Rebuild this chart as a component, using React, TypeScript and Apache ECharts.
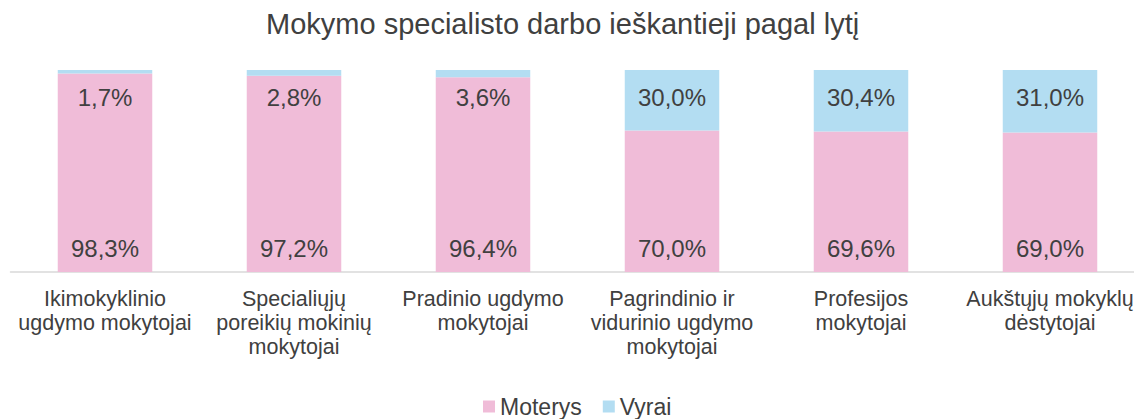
import React, { useEffect, useRef } from "react";
import * as echarts from "echarts";

const categories = [
  "Ikimokyklinio\nugdymo mokytojai",
  "Specialiųjų\nporeikių mokinių\nmokytojai",
  "Pradinio ugdymo\nmokytojai",
  "Pagrindinio ir\nvidurinio ugdymo\nmokytojai",
  "Profesijos\nmokytojai",
  "Aukštųjų mokyklų\ndėstytojai",
];
const moterys = [98.3, 97.2, 96.4, 70.0, 69.6, 69.0];
const vyrai = [1.7, 2.8, 3.6, 30.0, 30.4, 31.0];

const FONT = "'Liberation Sans', Arial, sans-serif";
const TXT = "#404040";
const PINK = "#F0BCD8";
const BLUE = "#B3DDF2";

const fmt = (p: any) => p.value.toFixed(1).replace(".", ",") + "%";

export default function App() {
  const ref = useRef<HTMLDivElement>(null);
  useEffect(() => {
    if (!ref.current) return;
    const chart = echarts.init(ref.current, undefined, { renderer: "svg" });
    chart.setOption({
      animation: false,
      backgroundColor: "#ffffff",
      title: {
        text: "Mokymo specialisto darbo ieškantieji pagal lytį",
        left: 266,
        top: 9,
        padding: 0,
        textStyle: { fontFamily: FONT, fontSize: 29, fontWeight: "normal", color: TXT },
      },
      legend: {
        top: 395,
        left: 483,
        padding: 0,
        itemWidth: 12,
        itemHeight: 12,
        itemGap: 21,
        icon: "rect",
        textStyle: { fontFamily: FONT, fontSize: 23, color: TXT },
        data: ["Moterys", "Vyrai"],
      },
      grid: { left: 10.5, right: 1.5, top: 70, bottom: 147, containLabel: false },
      xAxis: {
        type: "category",
        data: categories,
        axisLine: { lineStyle: { color: "#D9D9D9", width: 1.5 } },
        axisTick: { show: false },
        axisLabel: {
          interval: 0,
          margin: 15,
          fontFamily: FONT,
          fontSize: 21.5,
          lineHeight: 24,
          color: TXT,
        },
      },
      yAxis: { type: "value", min: 0, max: 100, show: false, splitLine: { show: false } },
      series: [
        {
          name: "Moterys",
          type: "bar",
          stack: "a",
          barWidth: "50%",
          data: moterys,
          itemStyle: { color: PINK },
          label: {
            show: true,
            position: "insideBottom",
            distance: 12,
            formatter: fmt,
            fontFamily: FONT,
            fontSize: 24,
            color: TXT,
          },
        },
        {
          name: "Vyrai",
          type: "bar",
          stack: "a",
          barWidth: "50%",
          data: vyrai,
          itemStyle: { color: BLUE },
          label: {
            show: true,
            position: "insideTop",
            distance: 15,
            formatter: fmt,
            fontFamily: FONT,
            fontSize: 24,
            color: TXT,
          },
        },
      ],
    });
    return () => chart.dispose();
  }, []);
  return (
    <div
      ref={ref}
      style={{ position: "fixed", left: 0, top: 0, width: 1146, height: 419, background: "#fff" }}
    />
  );
}
